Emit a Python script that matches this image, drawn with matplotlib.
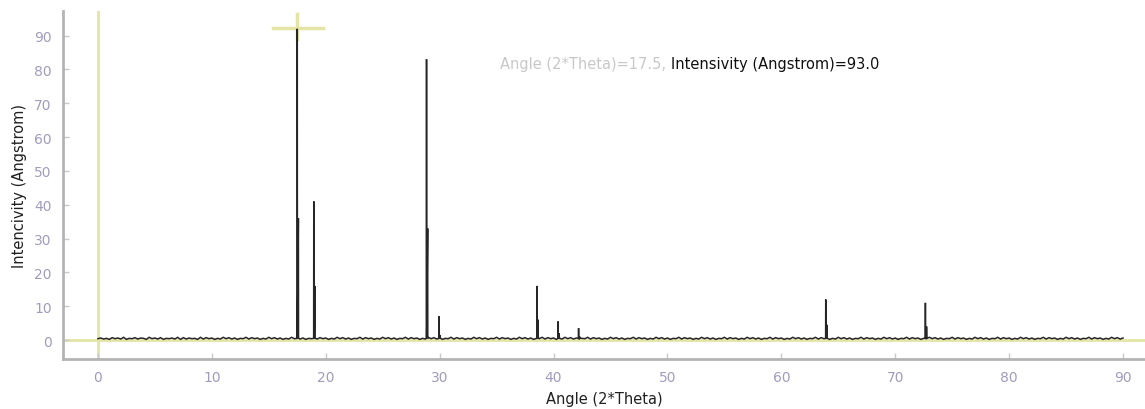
import numpy as np
import matplotlib
matplotlib.use("Agg")
import matplotlib.pyplot as plt

# ---- data ----
# baseline noise, one digit (tenths) every 0.25 degree from 0 to 90
base_step = 0.25
base_digits = (
    "4635274638254736528463725463827364528374625384736254837462538473625"
    "3847362548374625384736254837462538473625483746253847362548374625384"
    "7362548374625384736254837462538473625483746253847362548374625384736"
    "2548374625384736254837462538473625483746253847362548374625384736254"
    "8374625384736254837462538473625483746253847362548374625384736254837"
    "46253847362548374625384736"
)
base_noise = [int(d) / 10 for d in base_digits[:361]]

# diffraction peaks: main line, then a weaker shoulder just to the right
peak_pos = [17.5, 18.95, 28.85, 29.95, 38.55, 40.4, 42.2, 63.9, 72.65]
peak_height = [92.0, 41.0, 83.0, 7.0, 16.0, 5.5, 3.5, 12.0, 11.0]
shoulder_height = [36.0, 16.0, 33.0, 1.5, 6.0, 2.0, 1.0, 4.5, 4.0]

cursor_x = 17.5
cursor_y = 93.0

# ---- build the curve ----
xs = list(np.arange(len(base_noise)) * base_step)
ys = list(base_noise)
for p, h, s in zip(peak_pos, peak_height, shoulder_height):
    xs += [p - 0.01, p, p + 0.01, p + 0.1, p + 0.11, p + 0.14]
    ys += [0.5, h, 0.6, s, 0.6, 0.5]
order = np.argsort(xs, kind="stable")
xs = np.array(xs)[order]
ys = np.array(ys)[order]

plt.rcParams['font.family'] = ['DejaVu Sans']

fig = plt.figure(figsize=(11.45, 4.10), dpi=100)
ax = fig.add_axes([0.055, 0.122, 0.945, 0.849])

yellow = "#e4e4a6"
ax.axvline(0, color=yellow, lw=2, zorder=1)
ax.axhline(0, color=yellow, lw=2, zorder=1)

# cursor crosshair (under the curve)
ax.plot([cursor_x - 2.1, cursor_x + 2.3], [cursor_y - 0.7, cursor_y - 0.7], color=yellow, lw=2.5, zorder=1.5)
ax.plot([cursor_x, cursor_x], [cursor_y - 4.0, cursor_y + 3.3], color=yellow, lw=2.5, zorder=1.5)

ax.plot(xs, ys, color="#262626", lw=1.1, zorder=2, solid_joinstyle="miter")

ax.set_xlim(-3.07, 91.93)
ax.set_ylim(-5.6, 97.3)
ax.set_xticks(range(0, 91, 10))
ax.set_yticks(range(0, 91, 10))

for side in ("top", "right"):
    ax.spines[side].set_visible(False)
for side in ("left", "bottom"):
    ax.spines[side].set_color("#b4b4b4")
    ax.spines[side].set_linewidth(2)

ax.tick_params(direction="in", length=4, width=1, color="#c8c8c8",
               labelcolor="#a09cbc", labelsize=10, pad=8)

ax.set_xlabel("Angle (2*Theta)", fontsize=10.5, color="#202020", labelpad=5)
ax.set_ylabel("Intencivity (Angstrom)", fontsize=10.5, color="#202020", labelpad=5)

# cursor readout
t1 = ax.text(0.404, 0.848, "Angle (2*Theta)=17.5, ", transform=ax.transAxes,
             fontsize=10.5, color="#c8c8c8", va="center", ha="left")
fig.canvas.draw()
bb = t1.get_window_extent()
x_end = ax.transAxes.inverted().transform((bb.x1, bb.y0))[0]
ax.text(x_end, 0.848, "Intensivity (Angstrom)=93.0", transform=ax.transAxes,
        fontsize=10.5, color="#101010", va="center", ha="left")

fig.savefig("out.png", dpi=100)
